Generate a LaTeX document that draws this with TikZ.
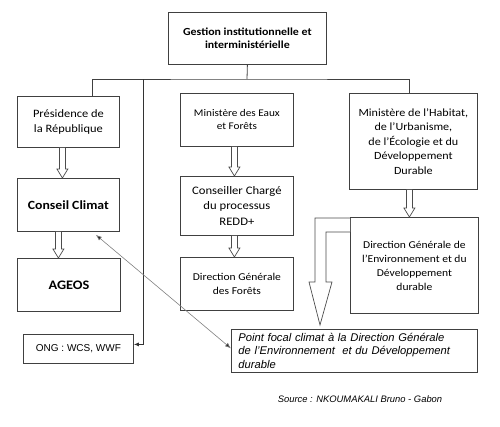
\documentclass[tikz,border=0pt]{standalone}
\usepackage{fontspec}
\setmainfont{Carlito}[FakeStretch=1.1]
\newfontfamily\arialfont{Liberation Sans}
\usetikzlibrary{arrows.meta, calc}

% hollow block arrow from node #1 down to node #2, x offset #3
\newcommand{\hollowdown}[3]{%
  \draw[hollow] let \p1=($(#1.south)+(#3,0)$), \p2=(#2.north) in
    (\x1-3pt,\y1) -- (\x1-3pt,\y2+9pt) -- (\x1-5.5pt,\y2+9pt) -- (\x1,\y2)
    -- (\x1+5.5pt,\y2+9pt) -- (\x1+3pt,\y2+9pt) -- (\x1+3pt,\y1);}

\begin{document}
\begin{tikzpicture}[x=1pt, y=-1pt,
    box/.style={rectangle, draw=black!75, line width=0.8pt, anchor=north west, align=center, inner sep=2pt},
    txt/.style={font=\fontsize{10.5}{14}\selectfont},
    hollow/.style={draw=black!70, line width=0.7pt, fill=white},
    link/.style={black!75, line width=0.8pt},
    arr/.style={-{Latex[length=5pt, width=4pt]}, black!80, line width=0.8pt},
    graylink/.style={{Latex[length=6pt, width=4.5pt, fill=black!85]}-{Latex[length=6pt, width=4.5pt, fill=black!85]}, black!50, line width=0.6pt}
]
\useasboundingbox (0,0) rectangle (500,426);

% top
\node[box, minimum width=158pt, minimum height=52pt, font=\bfseries\fontsize{10.8}{13.5}\selectfont] (gestion) at (168,12) {Gestion institutionnelle et\\ interministérielle};

% left column
\node[box, minimum width=102pt, minimum height=51pt, font=\fontsize{11.3}{15}\selectfont] (pres) at (17,96) {Présidence de\\ la République};
\node[box, minimum width=102pt, minimum height=53pt, font=\bfseries\fontsize{12.5}{15}\selectfont] (conseil) at (17,178) {Conseil Climat};
\node[box, minimum width=103pt, minimum height=53pt, font=\bfseries\fontsize{13}{15}\selectfont] (ageos) at (17,258) {AGEOS};
\node[box, minimum width=110pt, minimum height=29pt, font=\arialfont\fontsize{10}{12}\selectfont] (ong) at (23,334) {ONG : WCS, WWF};

% middle column
\node[box, minimum width=113pt, minimum height=53pt, font=\fontsize{10.2}{13}\selectfont] (eaux) at (180,93) {Ministère des Eaux\\ et Forêts};
\node[box, minimum width=113pt, minimum height=59pt, font=\fontsize{11.5}{15.5}\selectfont] (redd) at (180,176) {Conseiller Chargé\\ du processus\\ REDD+};
\node[box, txt, minimum width=113pt, minimum height=53pt] (dgforets) at (180,257) {Direction Générale\\ des Forêts};

% right column
\node[box, minimum width=128pt, minimum height=96pt, font=\fontsize{11}{14.5}\selectfont] (habitat) at (349,93) {Ministère de l’Habitat,\\ de l’Urbanisme,\\ de l’Écologie et du\\ Développement\\ Durable};
\node[box, txt, minimum width=128pt, minimum height=96pt] (dgenv) at (350,217) {Direction Générale de\\ l’Environnement et du\\ Développement\\ durable};
\node[box, align=left, minimum width=246pt, minimum height=43pt, inner xsep=7pt, text width=232pt, font=\arialfont\itshape\fontsize{11.2}{13.5}\selectfont] (focal) at (231,329) {Point focal climat à la Direction Générale\\ de l’Environnement \ et du Développement\\ durable};

\node[font=\arialfont\itshape\fontsize{9.4}{11}\selectfont] (source) at (360,399) {Source : NKOUMAKALI Bruno - Gabon};

% tree
\coordinate (bus) at (247,79);
\coordinate (ongtop) at (143,79);
\draw[link] (gestion.south) -- (bus);
\draw[link] ([xshift=24pt]pres.north) |- (bus) -| ([xshift=-4pt]habitat.north);
\draw[arr] (ongtop) |- ([yshift=4.5pt]ong.east);

% block arrows
\hollowdown{pres}{conseil}{-6}
\hollowdown{conseil}{ageos}{-10}
\hollowdown{eaux}{redd}{-2.5}
\hollowdown{redd}{dgforets}{-2.5}
\hollowdown{habitat}{dgenv}{-4}
\draw[hollow] let \p1=(dgenv.north west) in
  (\x1,\y1-1pt) -- (\x1-35pt,\y1-1pt) -- (\x1-35pt,\y1-65pt) -- (\x1-41pt,\y1-65pt)
  -- (\x1-30pt,\y1-108pt) -- (\x1-18pt,\y1-65pt) -- (\x1-24pt,\y1-65pt)
  -- (\x1-24pt,\y1-15pt) -- (\x1,\y1-15pt);

% link between Conseil Climat and focal point
\draw[graylink] ([xshift=-24pt, yshift=-3pt]conseil.south east) -- ([yshift=2.5pt]focal.west);
\end{tikzpicture}
\end{document}
